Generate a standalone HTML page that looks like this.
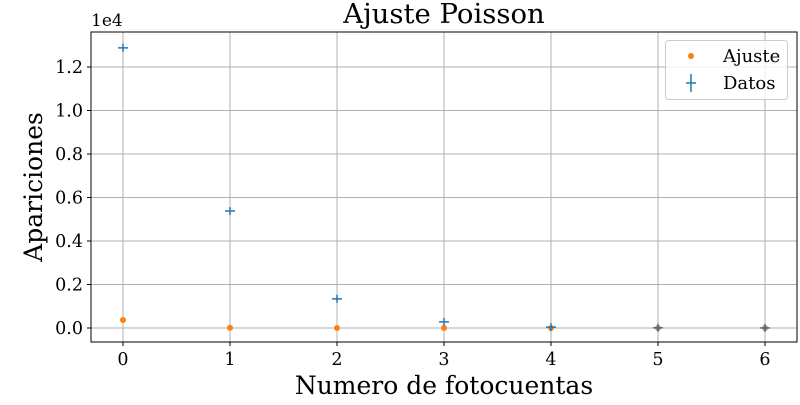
<!DOCTYPE html>
<html><head><meta charset="utf-8"><style>
body{margin:0;background:#fff;}
svg text{font-family:"DejaVu Serif","Liberation Serif",serif;fill:#000;}
</style></head><body>
<svg id="chart" width="800" height="400">
<g id="grid"></g>
<g id="marks"></g>
<rect x="91" y="32" width="706" height="310" fill="none" stroke="#000" stroke-width="1"/>
<g id="axes"></g>
<text x="444" y="23" text-anchor="middle" font-size="27.5">Ajuste Poisson</text>
<text x="444" y="394" text-anchor="middle" font-size="25">Numero de fotocuentas</text>
<text transform="translate(42,187) rotate(-90)" text-anchor="middle" font-size="25">Apariciones</text>
<text x="91" y="26" font-size="17">1e4</text>
<g>
<rect x="665.5" y="40.5" width="122" height="59" rx="3" fill="#fff" fill-opacity="0.8" stroke="#ccc"/>
<circle cx="691" cy="56" r="3" fill="#ff7f0e"/>
<text x="723" y="62" font-size="18">Ajuste</text>
<line x1="691" y1="74" x2="691" y2="92" stroke="#1f77b4" stroke-width="1.5"/>
<line x1="686" y1="83" x2="696" y2="83" stroke="#1f77b4" stroke-width="1.5"/>
<text x="723" y="89" font-size="18">Datos</text>
</g>
</svg>
<script>
const categories=[0,1,2,3,4,5,6];
const datos=[12880,5380,1340,280,40,8,2];
const ajuste=[370,10,2,1,0,0,0];
const xTicks=[0,1,2,3,4,5,6];
const yTicks=[0,0.2,0.4,0.6,0.8,1.0,1.2];
const NS="http://www.w3.org/2000/svg";
const xs=v=>123+v*107;
const ys=v=>328-v*217.5/10000;
const grid=document.getElementById('grid'),axes=document.getElementById('axes'),marks=document.getElementById('marks');
function mk(tag,attrs,parent){const e=document.createElementNS(NS,tag);for(const k in attrs)e.setAttribute(k,attrs[k]);parent.appendChild(e);return e;}
xTicks.forEach(t=>{const x=xs(t);
 const g=mk('line',{x1:x,x2:x,y1:32,y2:342,stroke:'#b0b0b0','stroke-width':1},grid);
 
 
 mk('line',{x1:x,x2:x,y1:342,y2:346,stroke:'#000'},axes);
 const tx=mk('text',{x:x,y:365,'text-anchor':'middle','font-size':17.5},axes);tx.textContent=t;
 
 
});
yTicks.forEach(t=>{const y=ys(t*10000);
 const g=mk('line',{x1:91,x2:797,y1:y,y2:y,stroke:'#b0b0b0','stroke-width':1},grid);
 
 
 mk('line',{x1:87,x2:91,y1:y,y2:y,stroke:'#000'},axes);
 const tx=mk('text',{x:83,y:y+6,'text-anchor':'end','font-size':17.5},axes);tx.textContent=t.toFixed(1);
 
 
});
categories.forEach((c,i)=>{
 const a=mk('circle',{cx:xs(c),cy:ys(ajuste[i]),r:3,fill:'#ff7f0e'},marks);
 
 
});
categories.forEach((c,i)=>{
 const x=xs(c),y=ys(datos[i]);
 const g=mk('g',{stroke:'#1f77b4','stroke-width':1.5},marks);
 
 
 mk('line',{x1:x-5,x2:x+5,y1:y,y2:y},g);
 mk('line',{x1:x,x2:x,y1:y-4,y2:y+4},g);
});
</script>
</body></html>
